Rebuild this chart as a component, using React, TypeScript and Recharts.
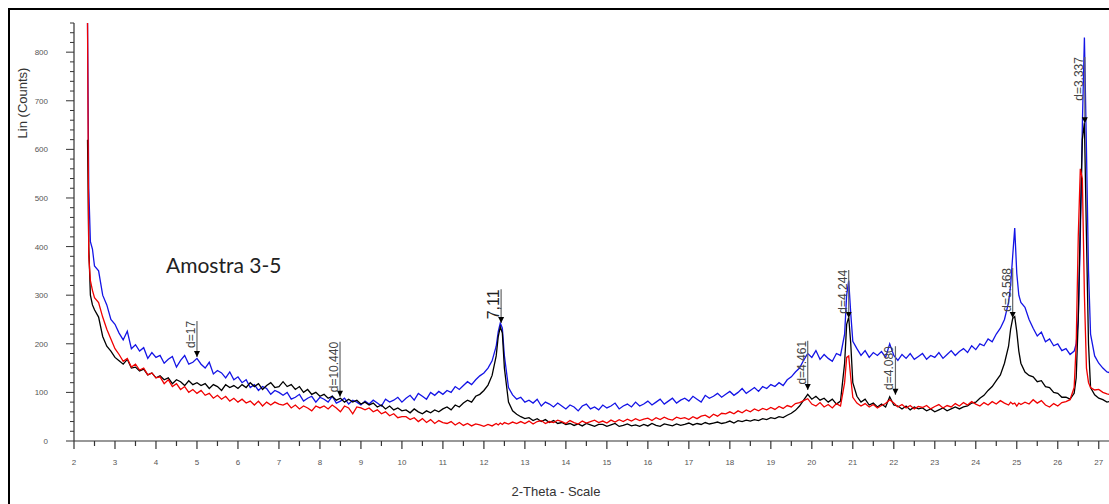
import { Line, LineChart, ReferenceLine, XAxis, YAxis } from "recharts"

// 2-theta positions (degrees), shared by the three scans
const theta = [
  2.33, 2.36, 2.4, 2.45, 2.5, 2.6, 2.7, 2.8, 2.9, 3.0,
  3.1, 3.2, 3.3, 3.4, 3.5, 3.6, 3.7, 3.8, 3.9, 4.0,
  4.1, 4.2, 4.3, 4.4, 4.5, 4.6, 4.7, 4.8, 4.9, 5.0,
  5.1, 5.2, 5.3, 5.4, 5.5, 5.6, 5.7, 5.8, 5.9, 6.0,
  6.1, 6.2, 6.3, 6.4, 6.5, 6.6, 6.7, 6.8, 6.9, 7.0,
  7.1, 7.2, 7.3, 7.4, 7.5, 7.6, 7.7, 7.8, 7.9, 8.0,
  8.1, 8.2, 8.3, 8.4, 8.5, 8.6, 8.7, 8.8, 8.9, 9.0,
  9.1, 9.2, 9.3, 9.4, 9.5, 9.6, 9.7, 9.8, 9.9, 10.0,
  10.1, 10.2, 10.3, 10.4, 10.5, 10.6, 10.7, 10.8, 10.9, 11.0,
  11.1, 11.2, 11.3, 11.4, 11.5, 11.6, 11.7, 11.8, 11.9, 12.0,
  12.1, 12.2, 12.3, 12.35, 12.4, 12.45, 12.5, 12.6, 12.7, 12.8,
  12.9, 13.0, 13.1, 13.2, 13.3, 13.4, 13.5, 13.6, 13.7, 13.8,
  13.9, 14.0, 14.1, 14.2, 14.3, 14.4, 14.5, 14.6, 14.7, 14.8,
  14.9, 15.0, 15.1, 15.2, 15.3, 15.4, 15.5, 15.6, 15.7, 15.8,
  15.9, 16.0, 16.1, 16.2, 16.3, 16.4, 16.5, 16.6, 16.7, 16.8,
  16.9, 17.0, 17.1, 17.2, 17.3, 17.4, 17.5, 17.6, 17.7, 17.8,
  17.9, 18.0, 18.1, 18.2, 18.3, 18.4, 18.5, 18.6, 18.7, 18.8,
  18.9, 19.0, 19.1, 19.2, 19.3, 19.4, 19.5, 19.6, 19.7, 19.8,
  19.9, 20.0, 20.1, 20.2, 20.3, 20.4, 20.5, 20.6, 20.7, 20.8,
  20.85, 20.9, 20.95, 21.0, 21.1, 21.2, 21.3, 21.4, 21.5, 21.6,
  21.7, 21.8, 21.9, 22.0, 22.1, 22.2, 22.3, 22.4, 22.5, 22.6,
  22.7, 22.8, 22.9, 23.0, 23.1, 23.2, 23.3, 23.4, 23.5, 23.6,
  23.7, 23.8, 23.9, 24.0, 24.1, 24.2, 24.3, 24.4, 24.5, 24.6,
  24.7, 24.8, 24.85, 24.9, 24.95, 25.0, 25.05, 25.1, 25.2, 25.3,
  25.4, 25.5, 25.6, 25.7, 25.8, 25.9, 26.0, 26.1, 26.2, 26.3,
  26.4, 26.45, 26.5, 26.55, 26.6, 26.65, 26.7, 26.75, 26.8, 26.9,
  27.0, 27.1, 27.2, 27.3,
]

// Lin (Counts), blue scan
const blueCounts = [
  860, 520, 410, 395, 360, 350, 300, 280, 250, 240,
  222, 208, 226, 190, 198, 185, 192, 170, 182, 172,
  176, 160, 168, 174, 152, 166, 176, 158, 162, 170,
  158, 150, 162, 138, 145, 140, 130, 142, 126, 132,
  120, 126, 110, 116, 104, 112, 108, 96, 104, 100,
  94, 100, 86, 90, 96, 82, 88, 92, 80, 90,
  86, 80, 92, 78, 82, 88, 76, 84, 80, 74,
  82, 76, 84, 78, 72, 86, 80, 84, 90, 80,
  88, 94, 84, 98, 92, 86, 100, 94, 102, 96,
  104, 100, 112, 106, 114, 122, 116, 126, 134, 140,
  150, 165, 195, 225, 243, 232, 175, 110, 95, 86,
  90, 80, 84, 78, 86, 72, 80, 76, 70, 78,
  72, 66, 74, 70, 62, 72, 76, 66, 70, 64,
  74, 68, 72, 78, 66, 72, 76, 70, 80, 72,
  76, 82, 74, 80, 86, 76, 82, 88, 78, 84,
  88, 82, 92, 86, 80, 94, 88, 92, 98, 90,
  96, 102, 94, 100, 108, 98, 104, 110, 102, 112,
  108, 116, 112, 120, 114, 126, 132, 142, 150, 166,
  180, 172, 186, 168, 178, 170, 164, 180, 176, 220,
  300, 330, 262, 205, 190, 176, 186, 172, 182, 176,
  184, 172, 200, 176, 166, 178, 170, 180, 168, 174,
  180, 168, 176, 172, 182, 170, 178, 186, 176, 184,
  190, 182, 196, 188, 200, 196, 210, 204, 220, 232,
  250, 285, 320, 380, 438, 345, 300, 285, 275, 250,
  232, 216, 224, 204, 210, 196, 200, 186, 190, 178,
  185, 200, 250, 420, 650, 830, 600, 350, 220, 175,
  160, 150, 142, 140,
]

// black scan
const blackCounts = [
  620, 400, 300, 280, 270, 255, 215, 195, 185, 172,
  165, 158, 168, 150, 152, 144, 148, 136, 140, 130,
  134, 126, 130, 118, 126, 122, 114, 124, 116, 120,
  114, 118, 108, 116, 112, 104, 116, 110, 114, 108,
  116, 110, 120, 112, 118, 106, 114, 120, 110, 112,
  122, 112, 116, 106, 112, 100, 106, 96, 100, 92,
  96, 88, 92, 84, 88, 80, 86, 80, 84, 76,
  80, 74, 78, 70, 74, 66, 72, 64, 68, 62,
  64, 58, 66, 60, 56, 62, 58, 64, 60, 66,
  70, 64, 74, 70, 78, 84, 80, 92, 96, 104,
  115, 135, 175, 215, 235, 222, 150, 80, 62, 55,
  50, 46, 48, 42, 46, 40, 44, 38, 42, 36,
  38, 34, 36, 32, 35, 31, 36, 33, 30, 34,
  34, 30, 33, 36, 30, 32, 35, 31, 33, 30,
  34, 31, 36, 32, 30, 35, 33, 31, 35, 32,
  34, 37, 33, 36, 34, 38, 35, 37, 39, 36,
  38, 41, 37, 42, 40, 43, 41, 44, 42, 46,
  44, 48, 46, 50, 48, 53, 57, 63, 72, 84,
  96, 86, 92, 84, 88, 80, 86, 76, 82, 160,
  240, 255, 200, 120, 92, 80, 86, 74, 78, 70,
  76, 70, 91, 74, 72, 66, 72, 64, 70, 66,
  68, 62, 66, 60, 64, 68, 62, 66, 70, 66,
  70, 72, 78, 80, 88, 94, 104, 112, 124, 136,
  160, 195, 230, 252, 256, 225, 185, 160, 142, 135,
  132, 122, 124, 112, 110, 100, 98, 90, 90, 86,
  98, 130, 250, 450, 620, 655, 420, 200, 110, 95,
  88, 85, 80, 82,
]

// red scan
const redCounts = [
  860, 380, 330, 310, 295, 285, 255, 230, 210, 190,
  178, 164, 170, 152, 158, 146, 150, 136, 140, 130,
  132, 118, 126, 112, 118, 106, 112, 100, 106, 98,
  104, 94, 98, 88, 94, 86, 92, 82, 88, 80,
  86, 78, 82, 74, 82, 72, 80, 74, 80, 76,
  74, 78, 68, 74, 66, 72, 68, 62, 72, 68,
  72, 66, 74, 68, 60, 72, 68, 56, 70, 68,
  64, 68, 60, 64, 56, 60, 52, 56, 48, 50,
  50, 44, 48, 40, 46, 38, 44, 36, 42, 38,
  36, 40, 33, 38, 32, 36, 31, 35, 33, 30,
  34, 31, 36, 33, 37, 34, 38, 35, 39, 36,
  40, 36, 41, 35, 40, 42, 36, 40, 38, 43,
  40, 36, 42, 38, 35, 41, 37, 40, 43, 38,
  41, 37, 43, 39, 44, 40, 45, 41, 46, 42,
  45, 47, 42, 48, 44, 49, 45, 43, 49, 46,
  48, 44, 50, 46, 51, 53, 48, 55, 51, 57,
  56, 60, 56, 62, 58, 64, 60, 66, 62, 67,
  64, 69, 65, 71, 67, 73, 70, 77, 79, 83,
  87, 76, 72, 79, 70, 75, 68, 77, 72, 120,
  172, 175, 130, 90, 78, 72, 77, 70, 75, 68,
  73, 77, 85, 78, 70, 75, 68, 73, 66, 71,
  69, 73, 66, 71, 75, 68, 73, 70, 77, 72,
  79, 74, 81, 76, 72, 79, 74, 81, 76, 83,
  78, 74, 80, 76, 78, 72, 78, 75, 80, 76,
  85, 78, 83, 74, 70, 77, 72, 79, 81, 85,
  110, 200, 420, 560, 540, 300, 150, 120, 110, 105,
  106, 100, 97, 95,
]

const xTicks = [
  2, 2.5, 3, 3.5, 4, 4.5, 5, 5.5, 6, 6.5, 7, 7.5, 8, 8.5, 9, 9.5, 10, 10.5,
  11, 11.5, 12, 12.5, 13, 13.5, 14, 14.5, 15, 15.5, 16, 16.5, 17, 17.5, 18, 18.5,
  19, 19.5, 20, 20.5, 21, 21.5, 22, 22.5, 23, 23.5, 24, 24.5, 25, 25.5, 26, 26.5, 27,
]

const yTicks = [
  0, 20, 40, 60, 80, 100, 120, 140, 160, 180, 200, 220, 240, 260, 280, 300,
  320, 340, 360, 380, 400, 420, 440, 460, 480, 500, 520, 540, 560, 580, 600,
  620, 640, 660, 680, 700, 720, 740, 760, 780, 800, 820, 840, 860,
]

// peak markers: position, top of the marker line, arrow tip, text
const peakTheta = [5.0, 8.49, 12.42, 19.9, 20.9, 22.04, 24.9, 26.66]
const peakTop = [247, 204, 312, 206, 352, 195, 356, 790]
const peakTip = [173, 91, 243, 105, 253, 95, 253, 654]
const peakLabels = ["d=17", "d=10.440", "7,11", "d=4.461", "d=4.244", "d=4.080", "d=3.568", "d=3.337"]

const data = theta.map((t, i) => ({
  theta: t,
  blue: blueCounts[i],
  black: blackCounts[i],
  red: redCounts[i],
}))

const tickFont = "'Liberation Sans', Arial, sans-serif"

function XTick({ x, y, payload }: any) {
  const major = Number.isInteger(payload.value)
  return (
    <g>
      <line x1={x} x2={x} y1={y} y2={y + (major ? 8 : 5)} stroke="#333" strokeWidth={1.2} />
      {major && (
        <text x={x} y={y + 24} textAnchor="middle" fontSize={8} fill="#555" fontFamily={tickFont}>
          {payload.value}
        </text>
      )}
    </g>
  )
}

function YTick({ x, y, payload }: any) {
  const major = payload.value % 100 === 0
  return (
    <g>
      <line x1={x} x2={x - (major ? 8 : 4)} y1={y} y2={y} stroke="#333" strokeWidth={1} />
      {major && (
        <text x={x - 26} y={y + 3} textAnchor="end" fontSize={8} fill="#555" fontFamily={tickFont}>
          {payload.value}
        </text>
      )}
    </g>
  )
}

function peakLabel(text: string) {
  const big = text === "7,11"
  return (props: any) => {
    const vb = props.viewBox || {}
    const x = vb.x
    const top = vb.y
    const tip = vb.y + vb.height
    return (
      <g>
        <polygon points={`${x - 3},${tip - 6} ${x + 3},${tip - 6} ${x},${tip}`} fill="#000" />
        <text
          x={x - 2}
          y={top}
          transform={`rotate(-90 ${x - 2} ${top})`}
          textAnchor="end"
          fontSize={big ? 16 : 12}
          fill={big ? "#222" : "#444"}
          fontFamily={tickFont}
        >
          {text}
        </text>
      </g>
    )
  }
}

export default function App() {
  return (
    <div
      style={{
        position: "fixed",
        left: 8,
        top: 8,
        width: 1099,
        height: 494,
        borderTop: "2px solid #000",
        borderLeft: "2px solid #000",
        overflow: "hidden",
        background: "#fff",
      }}
    >
      <LineChart width={1099} height={494} data={data} margin={{ top: 13, right: 0, bottom: 0, left: 0 }}>
        <XAxis
          type="number"
          dataKey="theta"
          domain={[2, 27.25]}
          allowDataOverflow
          ticks={xTicks}
          interval={0}
          height={63}
          tickSize={0}
          tickMargin={0}
          tickLine={false}
          tick={<XTick />}
          axisLine={{ stroke: "#333", strokeWidth: 1.2 }}
        />
        <YAxis
          type="number"
          domain={[0, 860]}
          allowDataOverflow
          ticks={yTicks}
          interval={0}
          width={64}
          tickSize={0}
          tickMargin={0}
          tickLine={false}
          tick={<YTick />}
          axisLine={{ stroke: "#333", strokeWidth: 1.2 }}
        />
        <Line type="linear" dataKey="blue" stroke="#1414e6" strokeWidth={1.3} dot={false} isAnimationActive={false} />
        <Line type="linear" dataKey="black" stroke="#000" strokeWidth={1.3} dot={false} isAnimationActive={false} />
        <Line type="linear" dataKey="red" stroke="#f00000" strokeWidth={1.3} dot={false} isAnimationActive={false} />
        {peakTheta.map((t, i) => (
          <ReferenceLine
            key={peakLabels[i]}
            segment={[
              { x: t, y: peakTop[i] },
              { x: t, y: peakTip[i] },
            ]}
            stroke="#666"
            strokeWidth={1.2}
            label={peakLabel(peakLabels[i])}
          />
        ))}
      </LineChart>
      <div
        style={{
          position: "absolute",
          left: 12,
          top: 93,
          transform: "translate(-50%, -50%) rotate(-90deg)",
          whiteSpace: "nowrap",
          fontFamily: tickFont,
          fontSize: 13,
          color: "#333",
        }}
      >
        Lin (Counts)
      </div>
      <div
        style={{
          position: "absolute",
          left: 546,
          top: 481,
          transform: "translate(-50%, -50%)",
          whiteSpace: "nowrap",
          fontFamily: tickFont,
          fontSize: 13,
          color: "#333",
        }}
      >
        2-Theta - Scale
      </div>
      <div
        style={{
          position: "absolute",
          left: 156,
          top: 254,
          transform: "translateY(-50%)",
          whiteSpace: "nowrap",
          fontFamily: "Lato, 'Open Sans', sans-serif",
          fontSize: 21,
          color: "#222",
        }}
      >
        Amostra 3-5
      </div>
    </div>
  )
}
